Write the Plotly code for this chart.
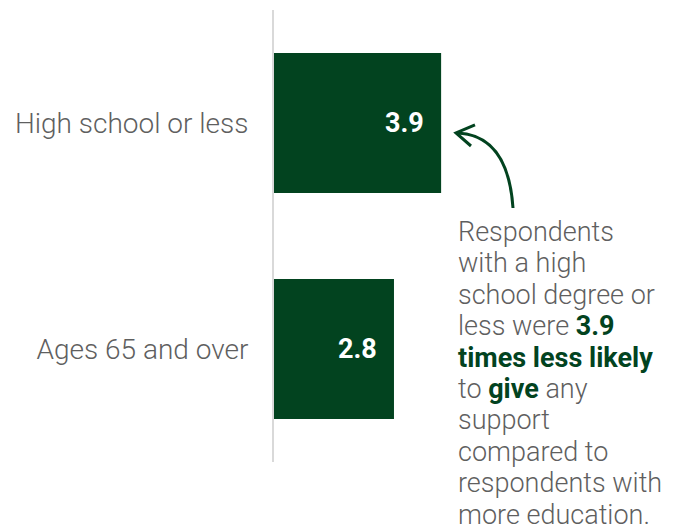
import plotly.graph_objects as go

categories = ["High school or less", "Ages 65 and over"]
values = [3.9, 2.8]
value_labels = ["3.9", "2.8"]

GREEN = "#02431F"
GRAY = "#5f5f5f"
W, H = 678, 531
L, R, T, B = 274, 0, 10, 69
PW, PH = W - L - R, H - T - B

def px2paper(x, y):
    return (x - L) / PW, (H - B - y) / PH

fig = go.Figure(go.Bar(
    x=values, y=categories, orientation="h",
    marker=dict(color=GREEN, line=dict(width=0)),
    width=0.62, hoverinfo="skip",
))

for c, v, t in zip(categories, values, value_labels):
    fig.add_annotation(x=v, y=c, xref="x", yref="y", text=f"<b>{t}</b>",
                       showarrow=False, xanchor="right", xshift=-15,
                       font=dict(family="Roboto", size=27, color="white"))

G = lambda s: f"<b><span style='color:{GREEN}'>{s}</span></b>"
note_lines = [
    "Respondents",
    "with a high",
    "school degree or",
    "less were " + G("3.9"),
    G("times less likely"),
    "to " + G("give") + " any",
    "support",
    "compared to",
    "respondents with",
    "more education.",
]
for i, line in enumerate(note_lines):
    ax, ay = px2paper(456, 232 + 31.4 * i)
    fig.add_annotation(x=ax, y=ay, xref="paper", yref="paper", text=line,
                       showarrow=False, xanchor="left", yanchor="middle", align="left",
                       font=dict(family="Roboto", size=27, color=GRAY, weight=300))

# curved arrow
def P(x, y):
    a, b = px2paper(x, y)
    return f"{a:.4f},{b:.4f}"

curve = f"M {P(513,208)} Q {P(508,135)} {P(457,133)}"
head = f"M {P(475,125)} L {P(456,133)} L {P(471,146)}"
for p in (curve, head):
    fig.add_shape(type="path", path=p, xref="paper", yref="paper",
                  line=dict(color=GREEN, width=3))

fig.update_layout(
    width=W, height=H, margin=dict(l=L, r=R, t=T, b=B),
    paper_bgcolor="white", plot_bgcolor="white", showlegend=False,
    xaxis=dict(range=[0, PW / 42.85], visible=False, fixedrange=True),
    yaxis=dict(autorange="reversed", showline=True, linecolor="#d9d9d9", linewidth=2,
               showgrid=False, ticks="", ticklabelstandoff=18,
               tickfont=dict(family="Roboto", size=28, color=GRAY, weight=300)),
)
fig.write_html("out.html")
